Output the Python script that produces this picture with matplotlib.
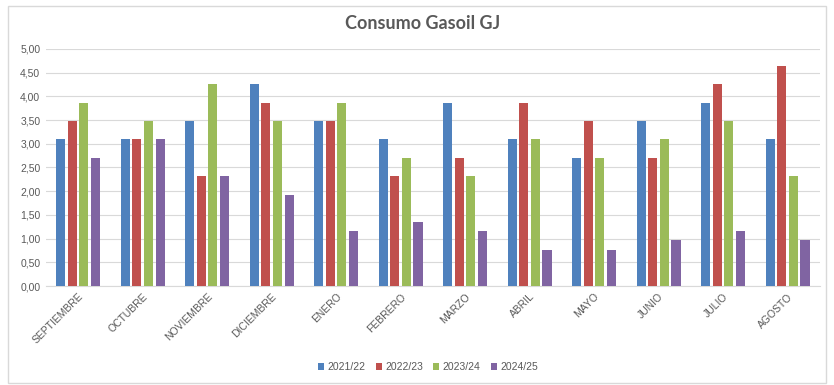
import matplotlib
matplotlib.use('Agg')
import numpy as np
from matplotlib import pyplot as plt
from matplotlib.patches import Rectangle
from matplotlib.ticker import FuncFormatter

# Datos
meses = ['SEPTIEMBRE', 'OCTUBRE', 'NOVIEMBRE', 'DICIEMBRE', 'ENERO', 'FEBRERO',
         'MARZO', 'ABRIL', 'MAYO', 'JUNIO', 'JULIO', 'AGOSTO']
temporadas = ['2021/22', '2022/23', '2023/24', '2024/25']
v_2021_22 = [3.09, 3.09, 3.48, 4.25, 3.48, 3.09, 3.86, 3.09, 2.70, 3.48, 3.86, 3.09]
v_2022_23 = [3.48, 3.09, 2.32, 3.86, 3.48, 2.32, 2.70, 3.86, 3.48, 2.70, 4.25, 4.64]
v_2023_24 = [3.86, 3.48, 4.25, 3.48, 3.86, 2.70, 2.32, 3.09, 2.70, 3.09, 3.48, 2.32]
v_2024_25 = [2.70, 3.09, 2.32, 1.93, 1.16, 1.35, 1.16, 0.77, 0.77, 0.97, 1.16, 0.97]
colores = ['#4F81BD', '#C0504D', '#9BBB59', '#8064A2']

series = [v_2021_22, v_2022_23, v_2023_24, v_2024_25]

fig = plt.figure(figsize=(8.34, 3.85), dpi=100)
ax = fig.add_axes([0.055, 0.257, 0.928, 0.616])

# borde exterior del gráfico
fig.patches.append(Rectangle((8 / 834, 2 / 385), 818 / 834, 377 / 385,
                             transform=fig.transFigure, fill=False,
                             edgecolor='#D9D9D9', linewidth=1))

x = np.arange(len(meses))
paso = 0.18
ancho = 0.14
for i, (vals, nombre) in enumerate(zip(series, temporadas)):
    ax.bar(x + (i - 1.5) * paso, vals, width=ancho, color=colores[i],
           label=nombre, zorder=3)

ax.set_xlim(-0.5, len(meses) - 0.5)
ax.set_ylim(0, 5)
ax.set_yticks(np.arange(0, 5.01, 0.5))
ax.yaxis.set_major_formatter(FuncFormatter(lambda v, p: f'{v:.2f}'.replace('.', ',')))
ax.grid(axis='y', color='#D9D9D9', linewidth=0.8, zorder=0)
for s in ['top', 'right', 'left']:
    ax.spines[s].set_visible(False)
ax.spines['bottom'].set_color('#D9D9D9')

ax.set_xticks(x)
ax.set_xticklabels(meses, rotation=45, ha='right', rotation_mode='anchor',
                   fontsize=7.5, color='#595959', family='Liberation Sans')
ax.tick_params(axis='both', length=0, pad=4)
for lab in ax.get_yticklabels():
    lab.set_fontsize(7.5)
    lab.set_color('#595959')
    lab.set_family('Liberation Sans')

fig.text(0.507, 0.938, 'Consumo Gasoil GJ', ha='center', va='center',
         fontsize=13, fontweight='bold', color='#595959', family='Lato')

fig.legend(loc='center', bbox_to_anchor=(0.513, 0.047), ncol=4, frameon=False,
           handlelength=0.6, handleheight=0.6, handletextpad=0.3,
           columnspacing=1.0, labelcolor='#595959',
           prop={'family': 'Liberation Sans', 'size': 7.5})

plt.savefig('out.png', dpi=100)
